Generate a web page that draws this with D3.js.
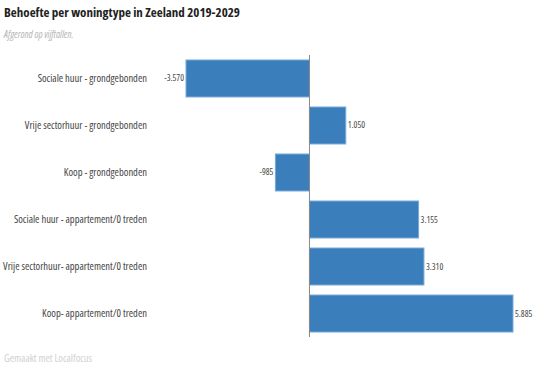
<!DOCTYPE html>
<html><head><meta charset="utf-8">
<script src="https://cdn.jsdelivr.net/npm/d3@7"></script>
<style>
body{margin:0;background:#fff;}
svg{display:block;font-family:"Open Sans",sans-serif;font-stretch:condensed;}
</style></head>
<body><svg id="c" width="551" height="370"></svg>
<script>
const categories = [
  "Sociale huur - grondgebonden",
  "Vrije sectorhuur - grondgebonden",
  "Koop - grondgebonden",
  "Sociale huur - appartement/0 treden",
  "Vrije sectorhuur- appartement/0 treden",
  "Koop- appartement/0 treden"
];
const values = [-3570, 1050, -985, 3155, 3310, 5885];
const valueLabels = ["-3.570", "1.050", "-985", "3.155", "3.310", "5.885"];
const title = "Behoefte per woningtype in Zeeland 2019-2029";
const subtitle = "Afgerond op vijftallen.";
const footer = "Gemaakt met Localfocus";

const svg = d3.select("#c");
const data = categories.map((c,i)=>({c, v: values[i], l: valueLabels[i]}));

const x = d3.scaleLinear().domain(d3.extent(values)).range([186, 513]);
const y = d3.scaleBand().domain(categories).range([55, 337]).paddingInner(0.213).paddingOuter(0.106);

svg.append("text").attr("x",4).attr("y",17).attr("font-size",13).attr("font-weight","bold").attr("fill","#222").text(title);
svg.append("text").attr("x",4).attr("y",38).attr("font-size",10).attr("font-style","italic").attr("fill","#b5b5b5").text(subtitle);

svg.selectAll("rect.bar").data(data).join("rect").attr("class","bar")
  .attr("x", d=>Math.min(x(0), x(d.v)))
  .attr("width", d=>Math.abs(x(d.v)-x(0)))
  .attr("y", d=>y(d.c))
  .attr("height", y.bandwidth())
  .attr("fill","#3a7ebb").attr("stroke","#79aadb").attr("stroke-width",1);

svg.append("line").attr("x1",x(0)).attr("x2",x(0)).attr("y1",55).attr("y2",337)
  .attr("stroke","#888").attr("stroke-width",1);

svg.selectAll("text.cat").data(data).join("text").attr("class","cat")
  .attr("x",147).attr("y",d=>y(d.c)+y.bandwidth()/2+3.5)
  .attr("text-anchor","end").attr("font-size",10.5).attr("fill","#444").text(d=>d.c);

svg.selectAll("text.val").data(data).join("text").attr("class","val")
  .attr("x",d=> d.v<0 ? x(d.v)-2 : x(d.v)+2)
  .attr("y",d=>y(d.c)+y.bandwidth()/2+3)
  .attr("text-anchor",d=>d.v<0?"end":"start")
  .attr("font-size",9).attr("fill","#444").text(d=>d.l);

svg.append("text").attr("x",4).attr("y",362).attr("font-size",10.5).attr("fill","#d0d0d0").text(footer);
</script></body></html>
